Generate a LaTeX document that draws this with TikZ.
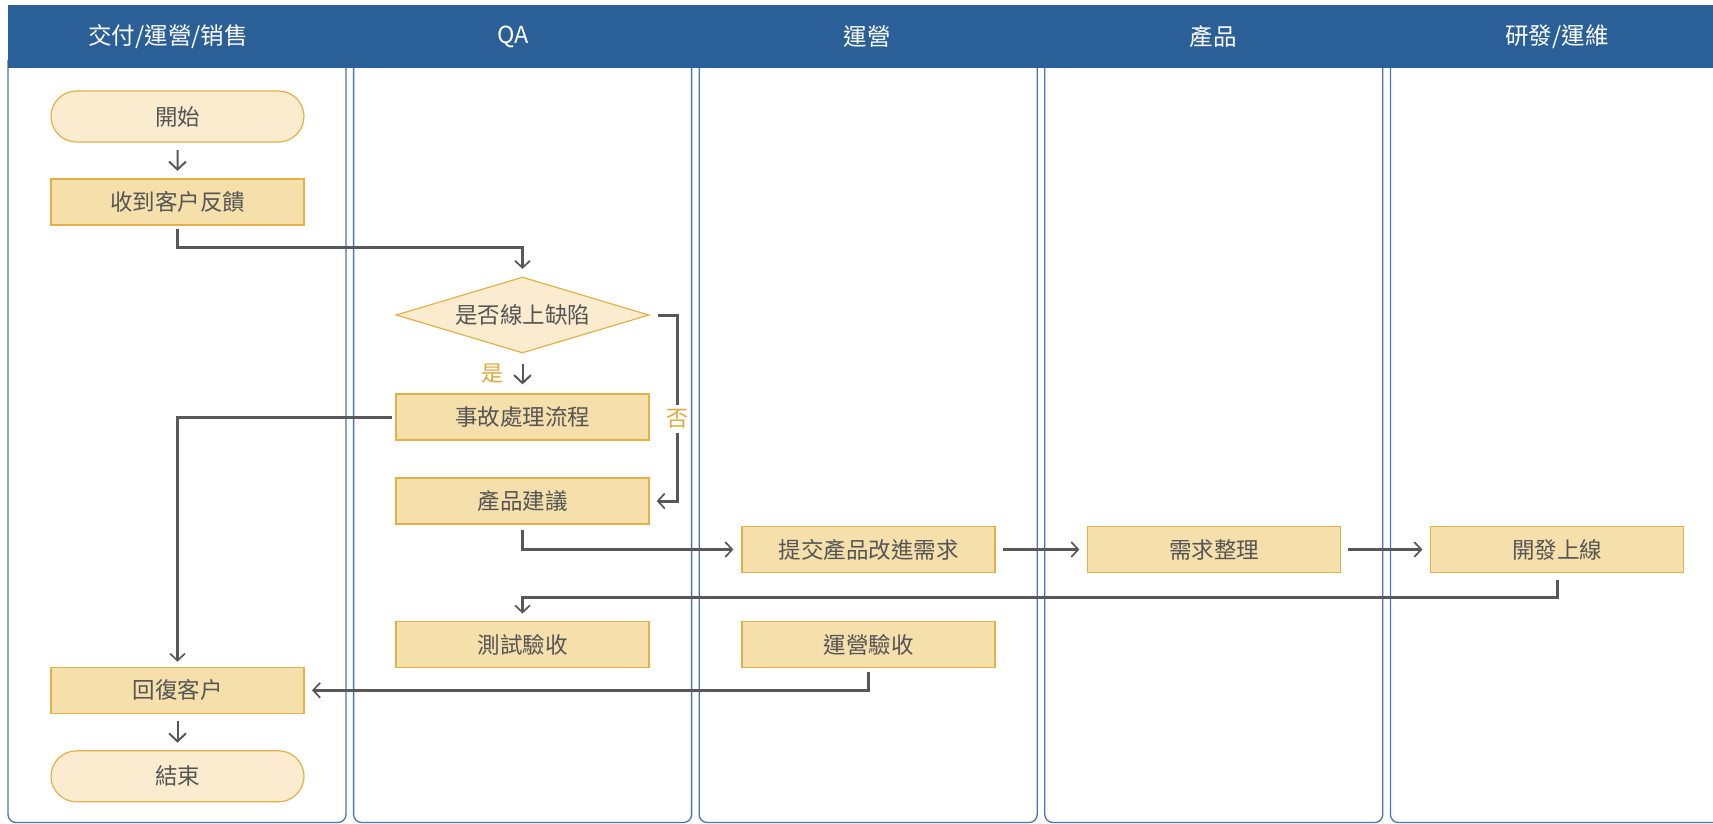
\documentclass[tikz,border=0pt]{standalone}
\usepackage{fontspec}
\newfontfamily\cjk{Noto Sans CJK TC}
\usetikzlibrary{shapes.geometric,shapes.misc,arrows.meta}
\definecolor{hdr}{RGB}{43,95,152}
\definecolor{laneblue}{RGB}{74,118,176}
\definecolor{boxfill}{RGB}{245,223,171}
\definecolor{termfill}{RGB}{251,235,207}
\definecolor{boxline}{RGB}{226,178,72}
\definecolor{txtgray}{RGB}{85,85,85}
\definecolor{conn}{RGB}{88,88,88}
\definecolor{lbl}{RGB}{221,169,58}
\begin{document}
\begin{tikzpicture}[x=1pt,y=-1pt,
  lane/.style={draw=laneblue,line width=1.3pt,rounded corners=8pt},
  hdrtext/.style={text=white,font=\cjk\fontsize{23.5}{27}\selectfont,inner sep=0pt},
  proc/.style={rectangle,draw=boxline,fill=boxfill,line width=1.2pt,
    minimum width=253pt,minimum height=46pt,inner sep=0pt,text=txtgray,
    font=\cjk\fontsize{22.5}{26}\selectfont},
  term/.style={proc,rounded rectangle,fill=termfill,minimum height=51pt},
  decision/.style={proc,diamond,fill=termfill,minimum width=253pt,minimum height=76pt,aspect=3.3},
  link/.style={draw=conn,line width=3pt,
    -{Straight Barb[length=7pt,width=15pt,line width=1.7pt]}},
  slink/.style={draw=conn,line width=2pt,
    -{Straight Barb[length=8pt,width=17pt,line width=2pt]},
    shorten <=7.5pt,shorten >=7.5pt},
  yn/.style={text=lbl,font=\cjk\fontsize{22}{26}\selectfont,inner sep=0pt}
]
\useasboundingbox (0,0) rectangle (1713,824);
\fill[white] (0,0) rectangle (1713,824);
% lanes
\foreach \l in {8,353.6,699.2,1044.8,1390.4}
  \draw[lane] (\l,60) -- (\l,822.5) -- (\l+338,822.5) -- (\l+338,60);
% header
\fill[hdr] (7.5,5) rectangle (1713,68.5);
\node[hdrtext] (h1) at (168,37) {交付/運營/销售};
\node[hdrtext] (h2) at (513,37) {QA};
\node[hdrtext] (h3) at (867,37) {運營};
\node[hdrtext] (h4) at (1213,37) {產品};
\node[hdrtext] (h5) at (1557,37) {研發/運維};
% nodes
\node[term] (start) at (177.5,116.5) {開始};
\node[proc] (recv) at (177.5,202) {收到客户反饋};
\node[decision] (dec) at (522.5,315) {是否線上缺陷};
\node[proc] (inc) at (522.5,417) {事故處理流程};
\node[proc] (sug) at (522.5,501) {產品建議};
\node[proc] (sub) at (868.5,549.5) {提交產品改進需求};
\node[proc] (req) at (1214,549.5) {需求整理};
\node[proc] (dev) at (1557,549.5) {開發上線};
\node[proc] (test) at (522.5,644.6) {測試驗收};
\node[proc] (opacc) at (868.5,644.7) {運營驗收};
\node[proc] (reply) at (177.5,690.3) {回復客户};
\node[term] (end) at (177.5,776.3) {結束};
% connectors
\draw[slink] (start) -- (recv);
\draw[link,shorten <=3pt,shorten >=7.5pt] (recv.south) -- ++(0,22) -| (dec.north);
\draw[slink,shorten <=10pt,shorten >=9pt] (dec) -- (inc);
\node[yn] (yes) at (492,374) {是};
\draw[link,shorten <=8pt,shorten >=7pt] (dec.east) -- ++(28,0) |- (sug.east);
\node[yn,fill=white,inner xsep=1pt,inner ysep=5pt] (no) at (677,419) {否};
\draw[link,shorten <=3pt,shorten >=5pt] (inc.west) -| (reply.north);
\draw[link,shorten <=5pt,shorten >=8pt] (sug.south) |- (sub.west);
\draw[link,shorten <=7pt,shorten >=7.5pt] (sub) -- (req);
\draw[link,shorten <=6.5pt,shorten >=7.5pt] (req) -- (dev);
\draw[link,shorten <=6.5pt,shorten >=7.5pt] (dev.south) -- ++(0,24.5) -| (test.north);
\draw[link,shorten <=3.3pt,shorten >=7.4pt] (opacc.south) |- (reply.east);
\draw[slink] (reply) -- (end);
\end{tikzpicture}
\end{document}
